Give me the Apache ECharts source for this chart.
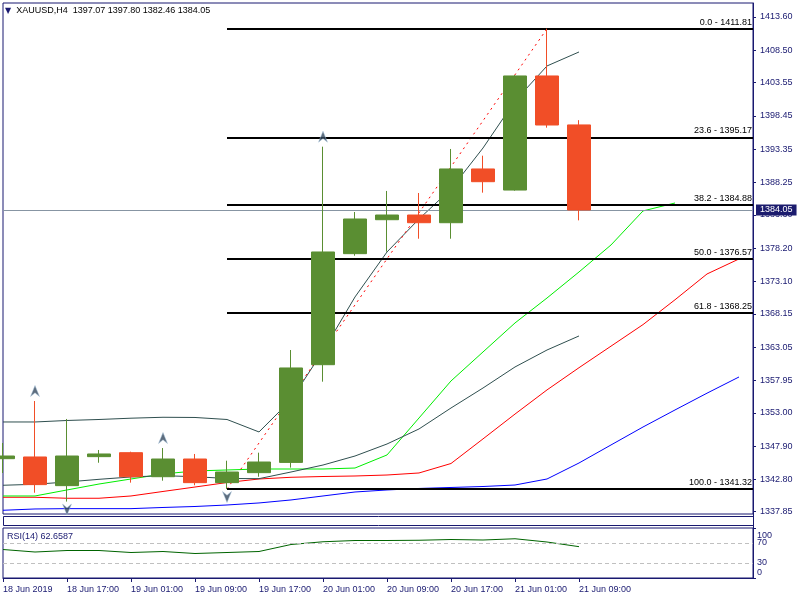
<!DOCTYPE html>
<html><head><meta charset="utf-8">
<script src="https://cdn.jsdelivr.net/npm/echarts@6/dist/echarts.min.js"></script>
<style>html,body{margin:0;padding:0;background:#fff}#c{width:800px;height:600px}</style>
</head><body><div id="c"></div>
<script>
// ---- data ----
const symbolName = 'XAUUSD,H4';
const timeLabels = ['18 Jun 2019','18 Jun 17:00','19 Jun 01:00','19 Jun 09:00','19 Jun 17:00','20 Jun 01:00','20 Jun 09:00','20 Jun 17:00','21 Jun 01:00','21 Jun 09:00'];
const priceTicks = [1413.60,1408.50,1403.55,1398.45,1393.35,1388.25,1383.30,1378.20,1373.10,1368.15,1363.05,1357.95,1353.00,1347.90,1342.80,1337.85];

const opens  = [1345.97,1346.23,1341.84,1346.28,1346.89,1343.21,1345.92,1342.30,1343.83,1345.40,1360.36,1377.36,1382.56,1383.28,1382.10,1390.33,1387.10,1404.57,1397.07];
const closes = [1346.38,1342.00,1346.38,1346.69,1343.21,1345.92,1342.30,1343.93,1345.46,1359.86,1377.62,1382.67,1383.28,1382.10,1390.33,1388.38,1404.57,1397.06,1384.05];
const lows   = [1343.78,1340.76,1339.40,1345.35,1342.30,1342.60,1341.90,1341.32,1343.21,1344.60,1357.76,1377.05,1377.67,1379.65,1379.65,1386.70,1387.00,1396.65,1382.46];
const highs  = [1348.37,1354.80,1352.05,1347.30,1347.04,1347.60,1346.69,1345.66,1346.89,1362.61,1393.74,1383.74,1386.96,1386.65,1393.39,1392.36,1404.70,1411.81,1397.80];

const bandUpper = [1351.59,1351.59,1351.82,1351.97,1352.17,1352.31,1352.28,1351.97,1350.06,1354.96,1362.46,1370.73,1377.62,1382.67,1387.26,1393.54,1400.74,1406.10,1408.24];
const bandLower = [1341.90,1342.05,1342.40,1342.81,1343.17,1343.37,1343.21,1342.94,1342.91,1343.93,1345.00,1346.38,1348.22,1350.52,1353.73,1356.79,1360.01,1362.61,1364.76];
const lipsGreen = [1340.26,1340.26,1341.18,1342.09,1342.86,1343.63,1344.09,1344.24,1344.39,1344.39,1344.39,1344.54,1346.54,1352.20,1357.87,1362.31,1366.75,1370.57,1374.56,1378.69,1383.90,1385.12];
const teethRed  = [1340.06,1340.06,1339.91,1339.91,1340.26,1340.95,1341.63,1342.32,1342.86,1343.12,1343.24,1343.32,1343.47,1343.78,1345.23,1349.00,1352.80,1356.50,1359.90,1363.20,1366.50,1370.30,1374.25,1376.55];
const jawBlue   = [1338.07,1338.27,1338.32,1338.32,1338.32,1338.50,1338.65,1338.88,1339.19,1339.65,1340.26,1340.87,1341.18,1341.41,1341.56,1341.71,1341.94,1342.86,1345.31,1348.07,1350.82,1353.43,1356.00,1358.48];

const rsiValues = [57,52,55,55,51,53,49,51,53,67,72.5,75,75,75.5,77,76,78.5,72,62.6587];
const rsiLevels = [70,30];
const rsiTopTick = 100;
const rsiBottomTick = 0;

const fibLevels = [0.0,23.6,38.2,50.0,61.8,100.0];
const fibPrices = [1411.81,1395.17,1384.88,1376.57,1368.25,1341.32];
const zigzagBars = [7,17];
const zigzagPrices = [1341.32,1411.81];

const fractalUpBars = [1,5,10];
const fractalDownBars = [2,7];

// ---- style ----
const FONT = 'Liberation Sans';
const NAVY = '#191970';
const GREEN = '#5a8e32';
const RED = '#f14e27';
const X_MAX = 750 / 32;
const last = closes.length - 1;

const candleData = opens.map((o, i) => [i, o, closes[i], lows[i], highs[i]]);
const lineOf = (arr, color, z) => ({
  type: 'line', xAxisIndex: 0, yAxisIndex: 0, data: arr.map((v, i) => [i, v]),
  symbol: 'none', showSymbol: false, silent: true, z: z || 2,
  lineStyle: { color: color, width: 1 }
});

const fibLines = fibLevels.map((lv, k) => [
  { coord: [zigzagBars[0], fibPrices[k]],
    label: { formatter: lv.toFixed(1) + ' - ' + fibPrices[k].toFixed(2) } },
  { coord: [X_MAX, fibPrices[k]] }
]);

const rsiAxis = (values, vAlign, showLine, pad) => ({
  type: 'value', gridIndex: 1, min: 0, max: 100, position: 'right',
  axisLine: { show: showLine, onZero: false, lineStyle: { color: NAVY } },
  axisTick: { show: showLine, customValues: [rsiBottomTick, rsiTopTick], length: 3, lineStyle: { color: NAVY } },
  axisLabel: { customValues: values, margin: 4, verticalAlign: vAlign, showMinLabel: true, showMaxLabel: true,
    padding: pad || 0, color: NAVY, fontSize: 9, fontFamily: FONT },
  splitLine: { show: false }
});

const chart = echarts.init(document.getElementById('c'), null, { renderer: 'canvas' });
chart.setOption({
  animation: false,
  backgroundColor: '#fff',
  textStyle: { fontFamily: FONT },
  title: [
    { text: '{tri|▼}  ' + symbolName + '  ' + [opens[last], highs[last], lows[last], closes[last]].map(v => v.toFixed(2)).join(' '),
      left: 5, top: 6, padding: 0,
      textStyle: { fontSize: 9, fontWeight: 'normal', color: '#000', fontFamily: FONT,
        rich: { tri: { fontSize: 8, color: NAVY, fontFamily: 'DejaVu Sans' } } } },
    { text: 'RSI(14) ' + rsiValues[last].toFixed(4), left: 7, top: 532, padding: 0,
      textStyle: { fontSize: 9, fontWeight: 'normal', color: NAVY, fontFamily: FONT } }
  ],
  grid: [
    { left: 3, top: 3, width: 750, height: 511, show: true, borderColor: NAVY, borderWidth: 1, backgroundColor: '#fff' },
    { left: 3, top: 528, width: 750, height: 50, show: true, borderColor: NAVY, borderWidth: 1, backgroundColor: '#fff' }
  ],
  xAxis: [
    { type: 'value', gridIndex: 0, min: 0, max: X_MAX, show: false, axisLine: { onZero: false } },
    { type: 'value', gridIndex: 1, min: 0, max: X_MAX,
      axisLine: { show: true, onZero: false, lineStyle: { color: NAVY } },
      axisTick: { show: true, customValues: timeLabels.map((_, k) => 2 * k), length: 4, lineStyle: { color: NAVY } },
      axisLabel: { customValues: timeLabels.map((_, k) => 2 * k), formatter: v => timeLabels[Math.round(v / 2)],
        align: 'left', margin: 7, color: NAVY, fontSize: 9, fontFamily: FONT, showMinLabel: true, showMaxLabel: true },
      splitLine: { show: false } }
  ],
  yAxis: [
    { type: 'value', gridIndex: 0, min: 1337.50, max: 1415.74, position: 'right',
      axisLine: { show: true, onZero: false, lineStyle: { color: NAVY } },
      axisTick: { show: true, customValues: priceTicks, length: 3, lineStyle: { color: NAVY } },
      axisLabel: { customValues: priceTicks, formatter: v => v.toFixed(2), margin: 7, color: NAVY, fontSize: 9, fontFamily: FONT,
        showMinLabel: true, showMaxLabel: true },
      splitLine: { show: false } },
    rsiAxis(rsiLevels, 'middle', true),
    rsiAxis([rsiTopTick], 'top', false, [3, 0, 0, 0]),
    rsiAxis([rsiBottomTick], 'bottom', false, [0, 0, 1, 0])
  ],
  graphic: [
    { type: 'rect', shape: { x: 3.5, y: 516.5, width: 750, height: 9 }, style: { fill: '#fff', stroke: NAVY, lineWidth: 1 }, silent: true },
    { type: 'line', shape: { x1: 753.5, y1: 514, x2: 753.5, y2: 528 }, style: { stroke: NAVY, lineWidth: 1 }, silent: true }
  ],
  series: [
    lineOf(jawBlue, '#0000ff'),
    lineOf(teethRed, '#ff0000'),
    lineOf(lipsGreen, '#00ee00'),
    lineOf(bandUpper, '#2f4f4f'),
    lineOf(bandLower, '#2f4f4f'),
    { type: 'line', xAxisIndex: 0, yAxisIndex: 0, z: 3, silent: true,
      data: zigzagBars.map((b, k) => [b, zigzagPrices[k]]), symbol: 'none',
      lineStyle: { color: '#ff0000', width: 1, type: [2, 4] },
      markLine: { silent: true, symbol: ['none', 'none'], animation: false,
        lineStyle: { color: '#000', width: 2, type: 'solid' },
        label: { show: true, position: 'insideEndTop', distance: [1, 2], color: '#000', fontSize: 9, fontFamily: FONT },
        data: fibLines } },
    { type: 'candlestick', xAxisIndex: 0, yAxisIndex: 0, z: 5, data: candleData, barWidth: 24,
      itemStyle: { color: GREEN, color0: RED, borderColor: GREEN, borderColor0: RED, borderWidth: 1 },
      markLine: { silent: true, symbol: ['none', 'none'], animation: false,
        lineStyle: { color: '#8795a3', width: 1, type: 'solid' },
        label: { show: true, position: 'end', distance: 3, formatter: closes[last].toFixed(2),
          color: '#fff', backgroundColor: '#1c1c6e', padding: [1, 4, 1, 4], fontSize: 9, fontFamily: FONT },
        data: [{ yAxis: closes[last] }] } },
    { type: 'scatter', xAxisIndex: 0, yAxisIndex: 0, z: 6, silent: true,
      data: fractalUpBars.map(b => [b, highs[b]]),
      symbol: 'path://M5,0 L10,12 L5,8 L0,12 Z', symbolSize: [9, 11], symbolOffset: [0, -10],
      itemStyle: { color: '#34495e', borderColor: '#a9c6e0', borderWidth: 0.6 } },
    { type: 'scatter', xAxisIndex: 0, yAxisIndex: 0, z: 6, silent: true,
      data: fractalDownBars.map(b => [b, lows[b]]),
      symbol: 'path://M0,0 L5,4 L10,0 L5,12 Z', symbolSize: [9, 11], symbolOffset: [0, 8],
      itemStyle: { color: '#34495e', borderColor: '#a9c6e0', borderWidth: 0.6 } },
    { type: 'line', xAxisIndex: 1, yAxisIndex: 1, silent: true, symbol: 'none',
      data: rsiValues.map((v, i) => [i, v]),
      lineStyle: { color: '#006400', width: 1 },
      markLine: { silent: true, symbol: ['none', 'none'], animation: false, label: { show: false },
        lineStyle: { color: '#c0c0c0', width: 1, type: [4, 3] },
        data: rsiLevels.map(v => ({ yAxis: v })) } }
  ]
});
</script></body></html>
